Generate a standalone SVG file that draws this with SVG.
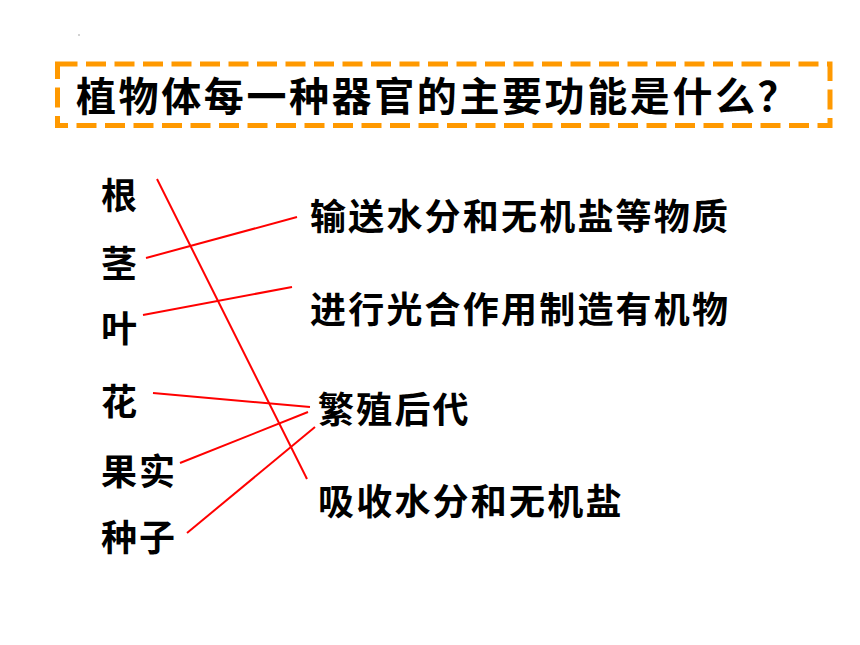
<svg xmlns="http://www.w3.org/2000/svg" width="860" height="645" viewBox="0 0 860 645">
<style>
text{font-family:"Noto Sans CJK SC","Noto Sans CJK JP",sans-serif;font-weight:bold;fill:#000}
.t{font-size:40px;letter-spacing:2.6px}
.l{font-size:36px;letter-spacing:2px}
.r{font-size:36px;letter-spacing:2.2px}
.c{stroke:#FF0000;stroke-width:2;fill:none}
</style>
<rect width="860" height="645" fill="#fff"/>
<circle cx="79" cy="35" r="0.8" fill="#999"/>
<g id="title">
<rect x="57.5" y="64" width="772.5" height="61.5" fill="none" stroke="#FF9900" stroke-width="5" stroke-dasharray="20 8.5"/>
<text class="t" x="76" y="111">植物体每一种器官的主要功能是什么？</text>
</g>
<g id="organs">
<g id="n-gen"><text class="l" x="101" y="209">根</text></g>
<g id="n-jing"><text class="l" x="101" y="277">茎</text></g>
<g id="n-ye"><text class="l" x="101" y="342">叶</text></g>
<g id="n-hua"><text class="l" x="101" y="415">花</text></g>
<g id="n-guoshi"><text class="l" x="101" y="485">果实</text></g>
<g id="n-zhongzi"><text class="l" x="101" y="551">种子</text></g>
</g>
<g id="functions">
<g id="f-shusong"><text class="r" x="310" y="230">输送水分和无机盐等物质</text></g>
<g id="f-guanghe"><text class="r" x="310" y="323">进行光合作用制造有机物</text></g>
<g id="f-fanzhi"><text class="r" x="318" y="423">繁殖后代</text></g>
<g id="f-xishou"><text class="r" x="318" y="515">吸收水分和无机盐</text></g>
</g>
<g id="connectors">
<line class="c" x1="157" y1="179" x2="307" y2="479"/>
<line class="c" x1="146" y1="258" x2="297" y2="217"/>
<line class="c" x1="143" y1="315" x2="292" y2="287"/>
<line class="c" x1="153" y1="393" x2="310" y2="407"/>
<line class="c" x1="180" y1="463" x2="308" y2="412"/>
<line class="c" x1="187" y1="533" x2="315" y2="427"/>
</g>
</svg>
